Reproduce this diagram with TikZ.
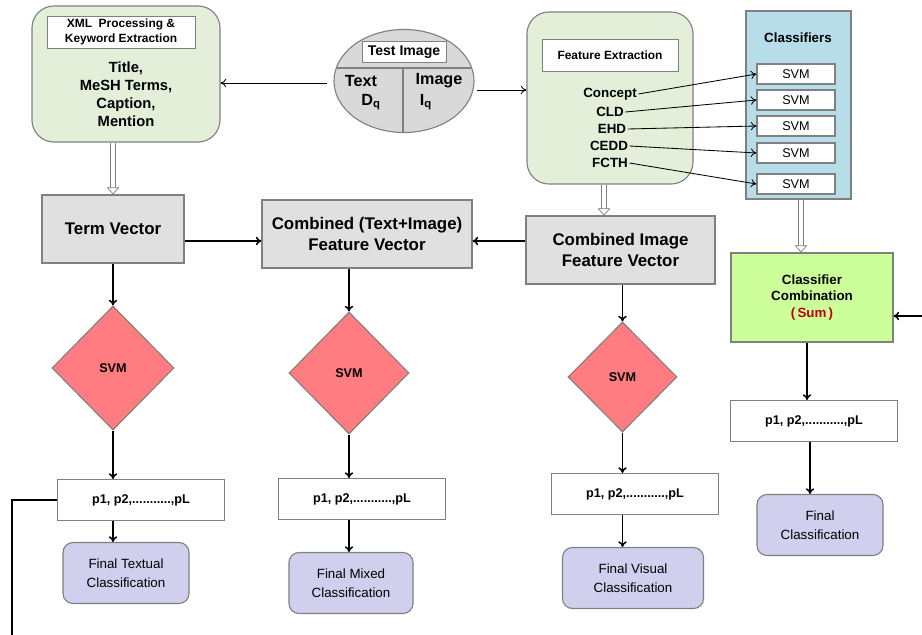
\documentclass[tikz,border=0pt]{standalone}
\usepackage{fontspec}
\setmainfont{Liberation Sans}
\usetikzlibrary{shapes.geometric,arrows.meta,calc}

\definecolor{xmlgreen}{RGB}{227,239,217}
\definecolor{clsblue}{RGB}{183,222,232}
\definecolor{combgreen}{RGB}{204,255,153}
\definecolor{vecgray}{RGB}{224,224,224}
\definecolor{querygray}{RGB}{217,217,217}
\definecolor{svmred}{RGB}{255,124,128}
\definecolor{finblue}{RGB}{208,208,238}
\definecolor{sumred}{RGB}{192,0,0}
\definecolor{edgegray}{RGB}{128,128,128}

\newcommand{\fsz}[2]{\fontsize{#1}{#2}\selectfont}

\tikzset{
  feat box/.style={draw=edgegray, fill=xmlgreen, rounded corners=0.55cm, line width=0.8pt},
  title box/.style={draw=edgegray, fill=white, align=center, font=\bfseries\fsz{8.5}{11}, inner sep=0pt},
  vec box/.style={draw=edgegray, fill=vecgray, align=center, font=\bfseries\fsz{12}{15}, minimum height=1.7cm, inner sep=0pt, line width=0.8pt},
  svm diamond/.style={diamond, draw=edgegray, fill=svmred, font=\bfseries\fsz{9}{11}, inner sep=0pt, line width=0.8pt},
  prob box/.style={draw=edgegray, fill=white, minimum width=4.175cm, minimum height=1.025cm, font=\bfseries\fsz{9}{11}, inner sep=0pt, line width=0.8pt},
  final box/.style={draw=edgegray, fill=finblue, rounded corners=0.25cm, align=center, font=\fsz{9.5}{13.5}, minimum height=1.525cm, inner sep=0pt, line width=0.8pt},
  svm cell/.style={draw=edgegray, fill=white, minimum width=1.95cm, minimum height=0.5cm, font=\fsz{9}{11}, inner sep=0pt, line width=0.8pt},
  feat label/.style={font=\bfseries\fsz{9.5}{11}, inner sep=1pt},
  flow/.style={-{To[length=4pt,width=6pt]}, line width=1.1pt},
  thin flow/.style={-{To[length=4pt,width=6pt]}, line width=0.6pt},
  hollow/.style={draw=edgegray, line width=0.5pt, double=white, double distance=3pt, -{Triangle[open,length=5pt,width=9pt]}},
}

\begin{document}
\begin{tikzpicture}[x=0.025cm, y=-0.025cm]
    \useasboundingbox (0,0) rectangle (922,635);

    % Keyword extraction box
    \node[feat box, minimum width=4.7cm, minimum height=3.4cm] (xml) at (126,74) {};
    \node[title box, minimum width=3.7cm, minimum height=0.8cm] (xmltitle) at (121,32) {XML\ \ Processing \&\\Keyword Extraction};
    \node[font=\bfseries\fsz{10.5}{12.75}, align=center] (fields) at (126,94) {Title,\\MeSH Terms,\\Caption,\\Mention};

    % Test image (query)
    \node[ellipse, draw=edgegray, fill=querygray, minimum width=3.5cm, minimum height=2.575cm, inner sep=0pt, line width=0.8pt] (timg) at (404,81) {};
    \node[title box, font=\bfseries\fsz{10}{12}, minimum width=2.1cm, minimum height=0.525cm] (timgtitle) at (404,52) {Test Image};
    \draw[edgegray, line width=0.8pt] ($(timg.center)+(-67.7,-13)$) -- ($(timg.center)+(67.7,-13)$);
    \draw[edgegray, line width=0.8pt] ($(timg.center)+(-1,-13)$) -- ($(timg.south)+(-1,0)$);
    \node[font=\bfseries\fsz{11.5}{13}] (qtext) at (361,81) {Text};
    \node[font=\bfseries\fsz{11.5}{13}] (qdoc) at (371,102) {D\textsubscript{q}};
    \node[font=\bfseries\fsz{11.5}{13}] (qimage) at (439,81) {Image};
    \node[font=\bfseries\fsz{11.5}{13}] (qimg) at (426,102) {I\textsubscript{q}};

    % Feature extraction box
    \node[feat box, minimum width=4.15cm, minimum height=4.3cm] (fe) at (610,98) {};
    \node[title box, minimum width=3.4cm, minimum height=0.8cm] (fetitle) at (610,55) {Feature Extraction};
    \node[feat label] (concept) at (610,94) {Concept};
    \node[feat label] (cld) at (610,112) {CLD};
    \node[feat label] (ehd) at (612,129) {EHD};
    \node[feat label] (cedd) at (609,146) {CEDD};
    \node[feat label] (fcth) at (610,163) {FCTH};

    % Classifiers
    \node[draw=edgegray, fill=clsblue, minimum width=2.625cm, minimum height=4.7cm, line width=0.8pt] (cls) at (798.5,105) {};
    \node[font=\bfseries\fsz{9.5}{11}] (clstitle) at (798,38) {Classifiers};
    \foreach \i/\y in {1/74,2/100,3/126,4/153,5/184}
        \node[svm cell] (svm\i) at (796,\y) {SVM};

    % Features to classifiers
    \draw[thin flow] (concept.east) -- (svm1.west);
    \draw[thin flow] (cld.east) -- (svm2.west);
    \draw[thin flow] (ehd.east) -- (svm3.west);
    \draw[thin flow] (cedd.east) -- (svm4.west);
    \draw[thin flow] (fcth.east) -- (svm5.west);

    % Query arrows
    \draw[thin flow] ($(timg.west)+(-6,2)$) -- ($(timg.west -| xml.east)+(0,2)$);
    \draw[thin flow] ($(timg.east)+(2,9)$) -- ($(timg.east -| fe.west)+(0,9)$);

    % Feature vectors
    \node[vec box, minimum width=3.55cm] (tv) at (113,229) {Term Vector};
    \node[vec box, minimum width=5.25cm] (cmb) at (367,234) {Combined (Text+Image)\\Feature Vector};
    \node[vec box, minimum width=4.725cm] (civ) at (620.5,250) {Combined Image\\Feature Vector};
    \node[draw=edgegray, fill=combgreen, minimum width=4.05cm, minimum height=2.225cm, align=center, font=\bfseries\fsz{9.5}{11.5}, line width=0.8pt] (comb) at (812,297.5) {Classifier\\Combination\\{\color{sumred}(\,Sum\,)}};

    % Hollow arrows
    \draw[hollow] (tv.north |- xml.south) -- (tv.north);
    \draw[hollow] ($(fe.south)+(-6,0)$) -- ($(fe.south |- civ.north)+(-6,0)$);
    \draw[hollow] ($(cls.south)+(2.5,0)$) -- ($(cls.south |- comb.north)+(2.5,0)$);

    % Vector links
    \coordinate (midrow) at (0,241);
    \draw[flow] (tv.east |- midrow) -- (cmb.west |- midrow);
    \draw[flow] (civ.west |- midrow) -- (cmb.east |- midrow);
    \coordinate (rin) at (922,316);
    \draw[flow] (rin) -- (rin -| comb.east);

    % SVM diamonds
    \node[svm diamond, minimum width=3.05cm, minimum height=3.1cm] (dia1) at (113,368) {SVM};
    \node[svm diamond, minimum width=3.0cm, minimum height=3.05cm] (dia2) at (349,373) {SVM};
    \node[svm diamond, minimum width=2.725cm, minimum height=2.75cm] (dia3) at (622.5,377) {SVM};

    % Probability boxes
    \node[prob box] (p1) at (141,500) {p1, p2,...........,pL};
    \node[prob box] (p2) at (362,499) {p1, p2,...........,pL};
    \node[prob box] (p3) at (635,494) {p1, p2,...........,pL};
    \node[prob box] (p4) at (814,421) {p1, p2,...........,pL};

    % Final decisions
    \node[final box, minimum width=3.15cm] (fin1) at (126,573) {Final Textual\\Classification};
    \node[final box, minimum width=3.1cm] (fin2) at (351,583) {Final Mixed\\Classification};
    \node[final box, minimum width=3.525cm] (fin3) at (633,578) {Final Visual\\Classification};
    \node[final box, minimum width=3.15cm] (fin4) at (820,525) {Final\\Classification};

    % Vertical flow
    \draw[flow] (tv.south) -- (dia1.north);
    \draw[flow] (cmb.south -| dia2.north) -- (dia2.north);
    \draw[flow] (civ.south -| dia3.north) -- (dia3.north);
    \draw[flow] (dia1.south) -- (dia1.south |- p1.north);
    \draw[flow] (dia2.south) -- (dia2.south |- p2.north);
    \draw[flow] (dia3.south) -- (dia3.south |- p3.north);
    \draw[flow] (dia1.south |- p1.south) -- (dia1.south |- fin1.north);
    \draw[flow] (dia2.south |- p2.south) -- (dia2.south |- fin2.north);
    \draw[flow] (dia3.south |- p3.south) -- (dia3.south |- fin3.north);
    \draw[flow] ($(comb.south)+(-5,0)$) -- ($(comb.south |- p4.north)+(-5,0)$);
    \draw[flow] ($(p4.south)+(-4,0)$) -- ($(p4.south |- fin4.north)+(-4,0)$);

    % Line leaving to the left
    \coordinate (lout) at (12,635);
    \draw[line width=1.1pt] (p1.west) -| (lout);
\end{tikzpicture}
\end{document}
